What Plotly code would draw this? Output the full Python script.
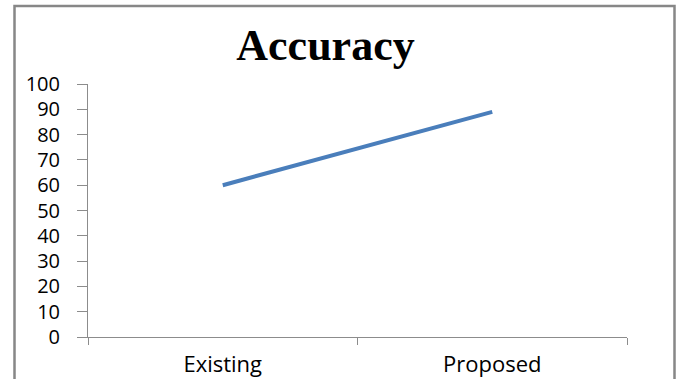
import plotly.graph_objects as go

categories = ["Existing", "Proposed"]
accuracy = [60, 89]
y_ticks = [0, 10, 20, 30, 40, 50, 60, 70, 80, 90, 100]

W, H = 677, 379
L, R, T, B = 88, 50, 84, 42
pw, ph = W - L - R, H - T - B

fig = go.Figure()
fig.add_trace(go.Scatter(
    x=categories, y=accuracy, mode="lines",
    line=dict(color="#4A7EBB", width=4),
    showlegend=False, hoverinfo="skip",
))

axis_col = "#8C8C8C"
fig.update_layout(
    width=W, height=H,
    margin=dict(l=L, r=R, t=T, b=B, pad=0, autoexpand=False),
    paper_bgcolor="white", plot_bgcolor="white",
    title=dict(
        text="<b>Accuracy</b>",
        font=dict(family="Liberation Serif", size=44, color="black"),
        x=325.5 / W, xanchor="center",
        y=1 - 45 / H, yanchor="middle",
        automargin=False,
    ),
    xaxis=dict(
        type="category", showgrid=False, zeroline=False, automargin=False,
        showline=True, linecolor=axis_col, linewidth=1,
        ticks="outside", tickson="boundaries", ticklen=7,
        tickcolor=axis_col, tickwidth=1,
        tickfont=dict(family="Open Sans", size=22, color="black"),
        ticklabelstandoff=8,
        range=[-0.5, 1.5],
    ),
    yaxis=dict(
        range=[0, 100], tickvals=y_ticks, showgrid=False, zeroline=False,
        automargin=False,
        showline=True, linecolor=axis_col, linewidth=1,
        ticks="outside", ticklen=10, tickcolor=axis_col, tickwidth=1,
        tickfont=dict(family="Open Sans", size=20, color="black"),
        ticklabelstandoff=13,
    ),
    shapes=[dict(
        type="rect", xref="paper", yref="paper",
        x0=(14.5 - L) / pw, x1=(674.5 - L) / pw,
        y0=(H - B - 390) / ph, y1=(H - B - 6) / ph,
        line=dict(color="#878787", width=2.5), fillcolor="rgba(0,0,0,0)",
        layer="below",
    )],
)

fig.write_html("out.html")
